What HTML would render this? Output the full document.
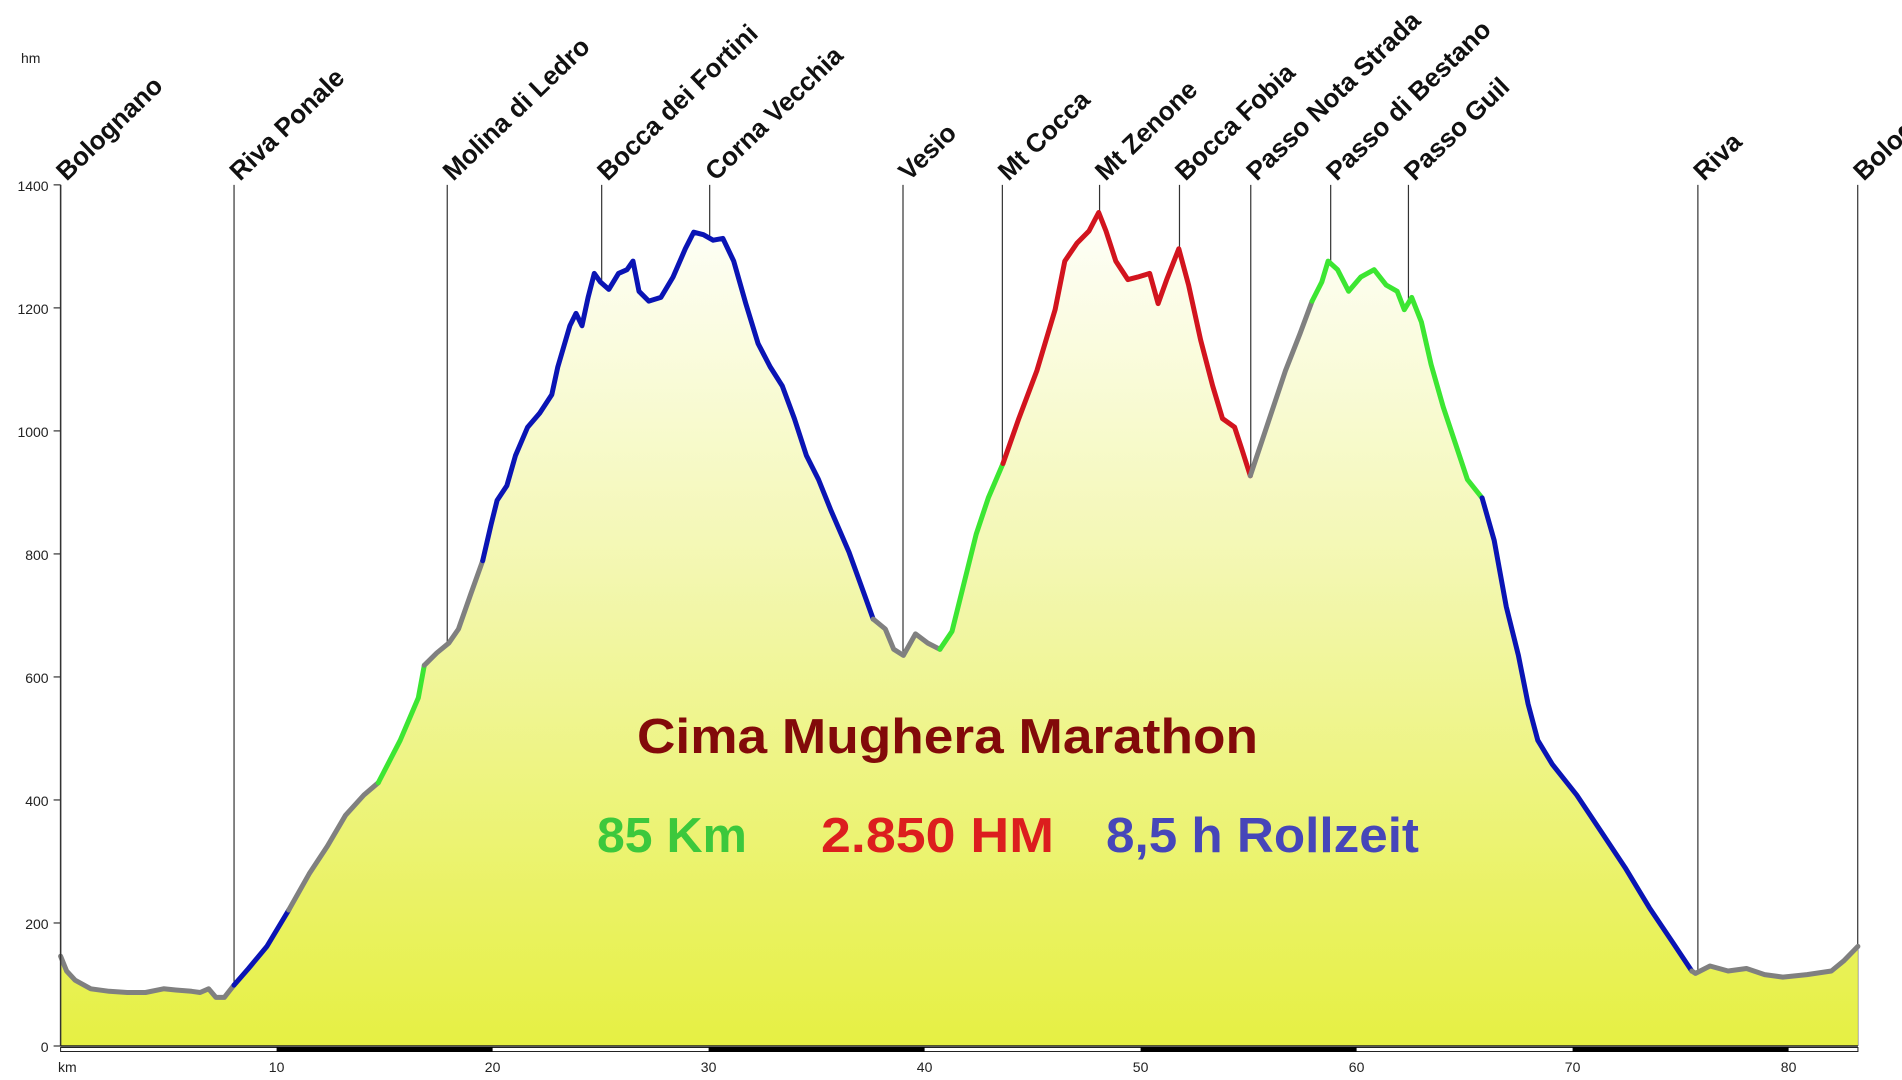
<!DOCTYPE html>
<html><head><meta charset="utf-8"><style>
html,body{margin:0;padding:0;background:#fff;}
svg{display:block;font-family:"Liberation Sans",sans-serif;}
</style></head><body>
<svg id="chart" width="1902" height="1080" viewBox="0 0 1902 1080" xmlns="http://www.w3.org/2000/svg">
<defs>
<linearGradient id="fillg" x1="0" y1="0" x2="0" y2="1" gradientUnits="userSpaceOnUse">
</linearGradient>
</defs>
</svg>
<script>
// ---- data ----
const kms = [0,0.28,0.67,1.4,2.25,3.09,3.93,4.77,5.33,6.06,6.46,6.85,7.19,7.58,8.03,8.7,9.55,10.56,11.51,12.35,13.19,14.04,14.71,15.72,16.56,16.84,17.41,17.97,18.42,18.98,19.54,19.93,20.21,20.66,21.06,21.62,22.18,22.74,23.02,23.58,23.86,24.14,24.42,24.71,24.99,25.38,25.83,26.22,26.5,26.78,27.23,27.79,28.35,28.92,29.31,29.76,30.21,30.66,31.16,31.72,32.29,32.85,33.41,33.97,34.53,35.09,35.65,36.5,37.17,37.62,38.18,38.57,39.02,39.58,40.15,40.71,41.27,41.83,42.39,42.95,43.63,44.36,45.2,46.04,46.49,47.05,47.61,48.06,48.4,48.85,49.41,49.86,50.42,50.81,51.21,51.77,52.22,52.78,53.34,53.79,54.35,54.69,55.08,55.87,56.71,57.38,57.94,58.39,58.68,59.12,59.63,60.19,60.81,61.37,61.88,62.21,62.55,63.0,63.45,64.01,64.57,65.13,65.81,66.37,66.93,67.49,67.94,68.39,69.06,70.19,71.31,72.43,73.55,74.68,75.52,75.69,76.36,77.2,78.05,78.89,79.73,80.85,81.98,82.54,83.21];
const elevs = [146,122,107,93,89,87,87,93,91,89,87,93,79,79,99,126,162,221,280,325,375,408,428,497,566,619,639,655,678,734,789,848,887,911,960,1006,1029,1059,1104,1171,1191,1171,1217,1256,1242,1230,1256,1262,1276,1227,1211,1217,1250,1296,1323,1319,1310,1313,1276,1207,1142,1104,1073,1020,960,921,872,803,738,694,678,645,635,670,655,645,674,753,832,891,947,1020,1098,1197,1276,1305,1325,1355,1325,1276,1246,1250,1256,1207,1246,1296,1237,1148,1073,1020,1006,970,927,1010,1098,1158,1211,1242,1276,1262,1227,1250,1262,1237,1227,1197,1217,1177,1108,1039,980,921,891,822,714,635,556,497,458,408,349,290,225,166,122,118,130,122,126,116,112,116,122,138,162];
const segEnds = [8.03,10.56,14.71,16.84,19.54,37.62,40.71,43.63,55.08,57.94,65.81,75.52,83.21];
const segColors = ["#808080","#0a14b4","#808080","#3ce632","#808080","#0a14b4","#808080","#3ce632","#d2141e","#808080","#3ce632","#0a14b4","#808080"];
const markerNames = ["Bolognano","Riva Ponale","Molina di Ledro","Bocca dei Fortini","Corna Vecchia","Vesio","Mt Cocca","Mt Zenone","Bocca Fobia","Passo Nota Strada","Passo di Bestano","Passo Guil","Riva","Bolognano"];
const markerKms = [0,8.03,17.9,25.05,30.05,39.0,43.6,48.1,51.8,55.1,58.8,62.4,75.8,83.2];
const yTicks = [0,200,400,600,800,1000,1200,1400];
const xTicks = [10,20,30,40,50,60,70,80];

// ---- axes ----
const X0=60.6, PXKM=21.6, Y0=1046, PXM=0.6151, KMAX=83.21;
const xs = k => X0 + k*PXKM;
const ys = e => Y0 - e*PXM;
const NS="http://www.w3.org/2000/svg";
const svg=document.getElementById('chart');
function mk(tag, attrs, parent){const el=document.createElementNS(NS,tag);for(const k in attrs)el.setAttribute(k,attrs[k]);(parent||svg).appendChild(el);return el;}

const g=svg.querySelector('#fillg');
g.setAttribute('x1','0');g.setAttribute('y1',ys(1400));g.setAttribute('x2','0');g.setAttribute('y2',Y0);
mk('stop',{offset:'0','stop-color':'#ffffff'},g);
mk('stop',{offset:'0.45','stop-color':'#f3f7b0'},g);
mk('stop',{offset:'1','stop-color':'#e6f043'},g);

markerKms.forEach((k,i)=>{
  const l=mk('line',{x1:xs(k),x2:xs(k),y1:ys(1400),y2:Y0,stroke:'#333','stroke-width':1.2});
  
  
});

let d='M'+xs(kms[0])+','+Y0;
kms.forEach((k,i)=>{d+=' L'+xs(k).toFixed(1)+','+ys(elevs[i]).toFixed(1);});
d+=' L'+xs(kms[kms.length-1])+','+Y0+' Z';
const area=mk('path',{d:d,fill:'url(#fillg)'});



let start=0;
segEnds.forEach((e,si)=>{
  let pts=[];
  kms.forEach((k,i)=>{ if(k>=start-1e-6 && k<=e+1e-6) pts.push(xs(k).toFixed(1)+','+ys(elevs[i]).toFixed(1)); });
  const p=mk('polyline',{points:pts.join(' '),fill:'none',stroke:segColors[si],'stroke-width':5,'stroke-linejoin':'round','stroke-linecap':'round'});
  
  
  start=e;
});

markerNames.forEach((n,i)=>{
  const x=xs(markerKms[i])+6, y=ys(1400)-3;
  const t=mk('text',{x:x,y:y,'font-size':26,'font-weight':'bold',fill:'#111',transform:'rotate(-44 '+x+' '+y+')'});
  t.textContent=n;
  
  
});

const ya=mk('line',{x1:X0,x2:X0,y1:ys(1400),y2:Y0,stroke:'#333','stroke-width':1.5});


yTicks.forEach(v=>{
  mk('line',{x1:X0-7,x2:X0,y1:ys(v),y2:ys(v),stroke:'#333','stroke-width':1.2});
  const t=mk('text',{x:X0-12,y:ys(v)+6,'font-size':14,'text-anchor':'end',fill:'#222'});
  t.textContent=v;
  
  
});
const hm=mk('text',{x:21,y:63,'font-size':14,fill:'#222'});hm.textContent='hm';



const xa=mk('line',{x1:X0,x2:xs(KMAX),y1:Y0,y2:Y0,stroke:'#222','stroke-width':1.5});


mk('rect',{x:X0,y:Y0+1.5,width:xs(KMAX)-X0,height:4,fill:'#fff',stroke:'#222','stroke-width':1});
for(let k=10;k<KMAX;k+=20){
  mk('rect',{x:xs(k),y:Y0+1,width:Math.min(10,KMAX-k)*PXKM,height:5,fill:'#000'});
}
xTicks.forEach(v=>{
  const t=mk('text',{x:xs(v),y:1072,'font-size':14,'text-anchor':'middle',fill:'#222'});
  t.textContent=v;
  
  
});
const km=mk('text',{x:58,y:1072,'font-size':14,fill:'#222'});km.textContent='km';



const t1=mk('text',{x:637,y:753,'font-size':49,'font-weight':'bold',fill:'#820a0a',textLength:621,lengthAdjust:'spacingAndGlyphs'});
t1.textContent='Cima Mughera Marathon';


const t2=mk('text',{x:597,y:852,'font-size':49,'font-weight':'bold',fill:'#3cc83c',textLength:150,lengthAdjust:'spacingAndGlyphs'});
t2.textContent='85 Km';


const t3=mk('text',{x:821,y:852,'font-size':49,'font-weight':'bold',fill:'#dc1e1e',textLength:233,lengthAdjust:'spacingAndGlyphs'});
t3.textContent='2.850 HM';


const t4=mk('text',{x:1106,y:852,'font-size':49,'font-weight':'bold',fill:'#4646b9',textLength:313,lengthAdjust:'spacingAndGlyphs'});
t4.textContent='8,5 h Rollzeit';


</script>
</body></html>
